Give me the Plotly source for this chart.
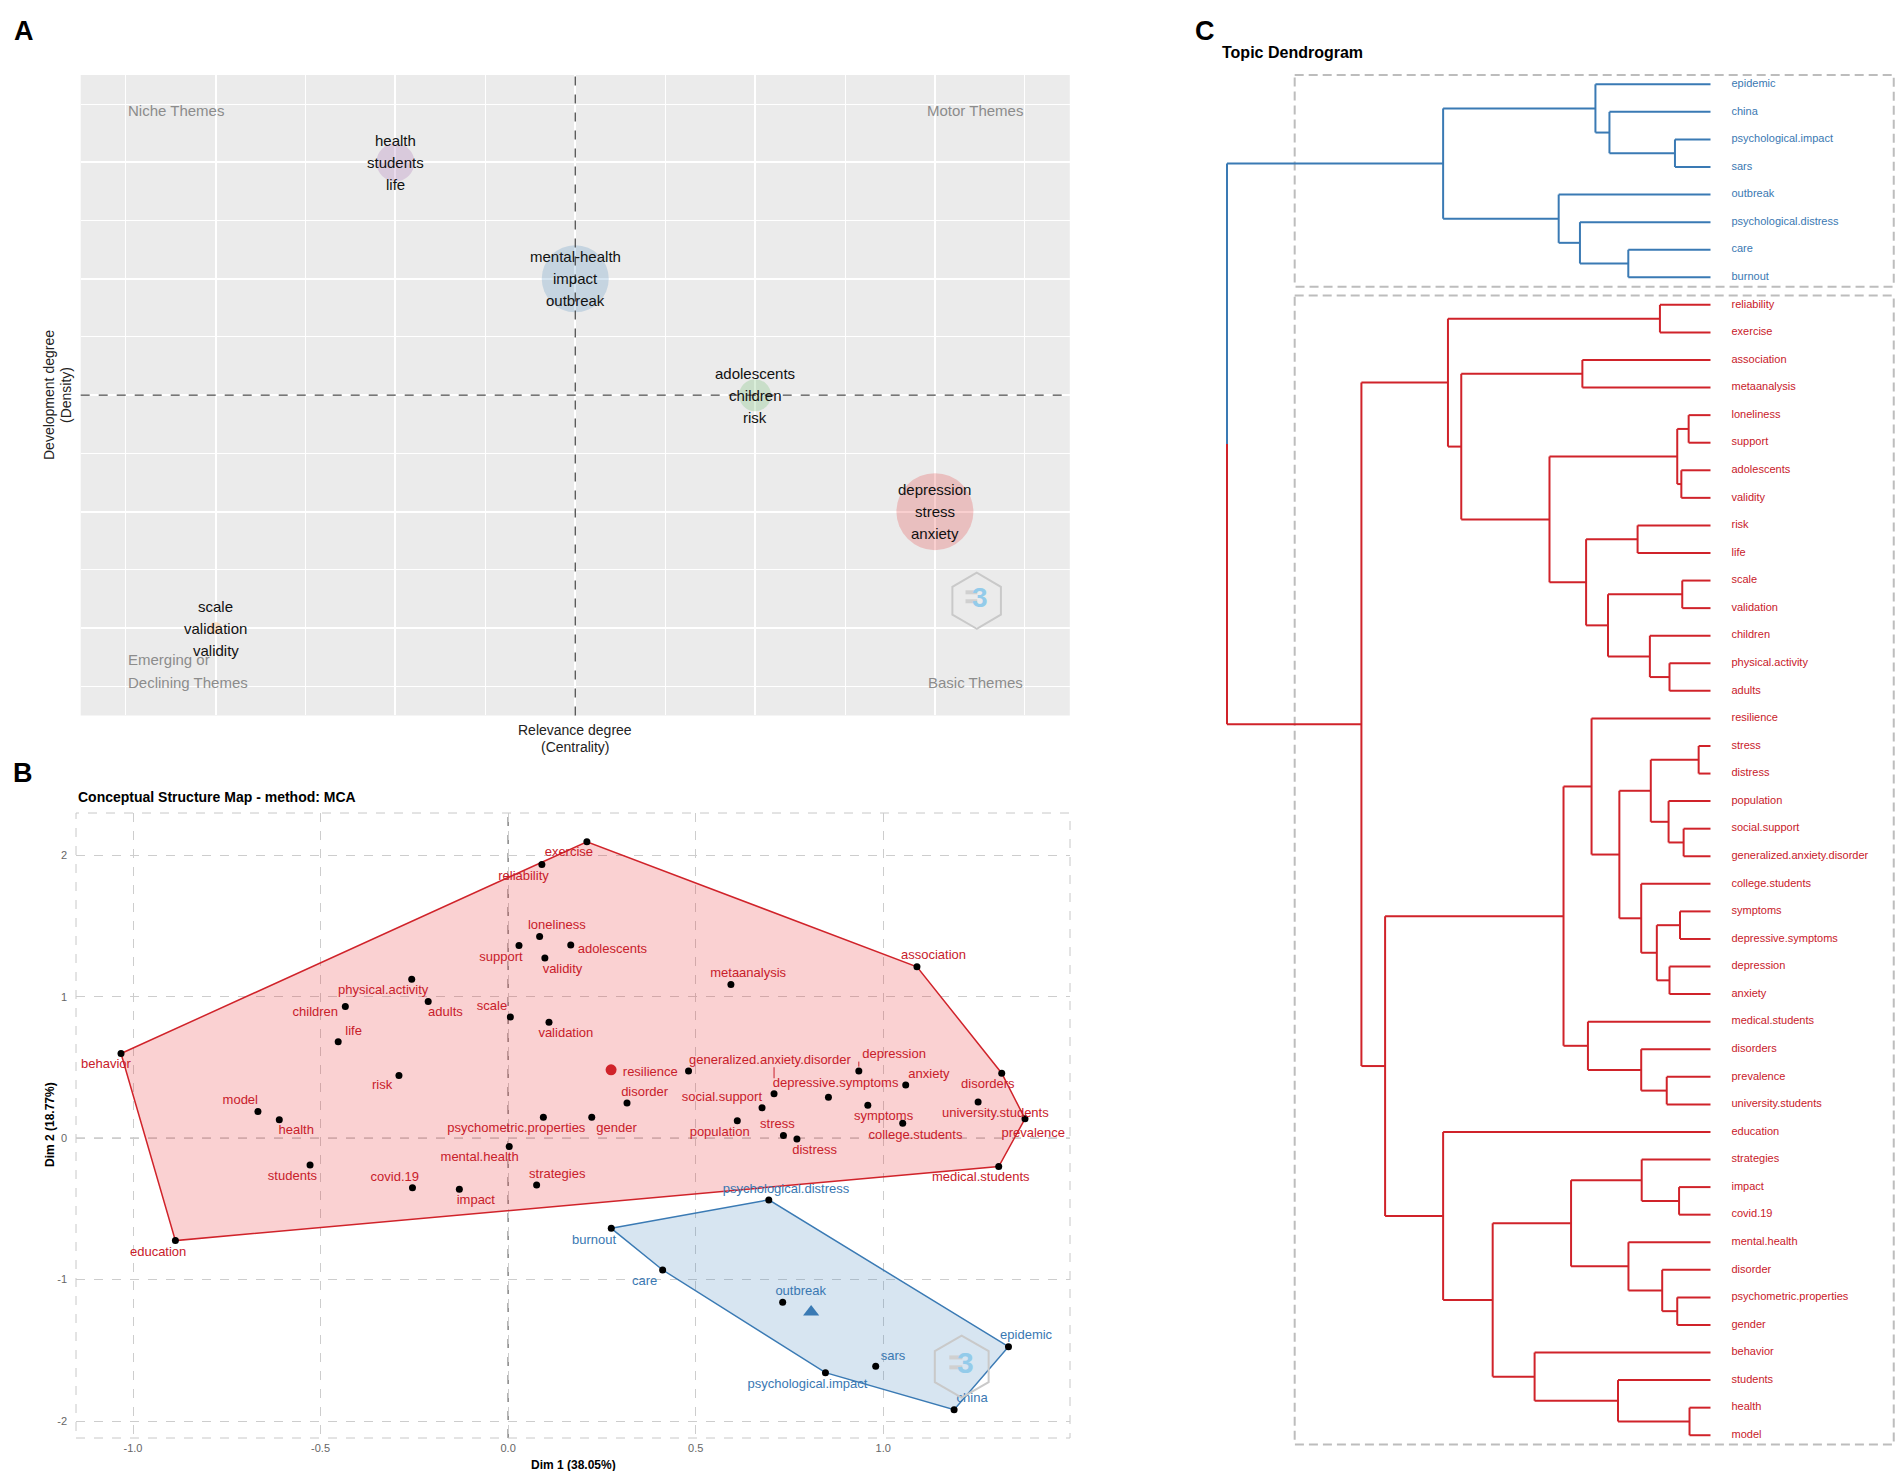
import numpy as np
import plotly.graph_objects as go

W, H = 1904, 1479
BODY = 8                      # default page margin of the html body
FW, FH = W - 2 * BODY, H - 2 * BODY
FONT = "Liberation Sans, Arial, Helvetica, sans-serif"


def fx(px):
    return (px - BODY) / FW


def fy(py):
    return 1 - (py - BODY) / FH


# ---------------- Panel A : thematic map ----------------
theme_word_1 = ["health", "mental-health", "adolescents", "depression", "scale"]
theme_word_2 = ["students", "impact", "children", "stress", "validation"]
theme_word_3 = ["life", "outbreak", "risk", "anxiety", "validity"]
theme_centrality = [2, 3, 4, 5, 1]
theme_density = [5, 4, 3, 2, 1]
theme_size = [38, 67, 32, 77, 12]
theme_colors = [(152, 78, 163), (55, 126, 184), (77, 175, 74), (228, 26, 28), (255, 127, 0)]

# ---------------- Panel B : conceptual structure map (MCA) ----------------
mca_words = ["exercise", "reliability", "loneliness", "support", "adolescents", "validity",
             "physical.activity", "adults", "children", "scale", "validation", "life",
             "behavior", "risk", "model", "health", "psychometric.properties", "gender",
             "mental.health", "students", "covid.19", "impact", "strategies", "education",
             "metaanalysis", "association", "resilience", "generalized.anxiety.disorder",
             "depression", "anxiety", "disorders", "depressive.symptoms", "symptoms",
             "social.support", "population", "stress", "distress", "college.students",
             "university.students", "prevalence", "medical.students", "disorder",
             "psychological.distress", "burnout", "care", "outbreak", "epidemic", "sars",
             "psychological.impact", "china"]
mca_dim1 = [0.210, 0.090, 0.084, 0.029, 0.167, 0.098, -0.257, -0.213, -0.434, 0.006, 0.109, -0.453,
            -1.032, -0.291, -0.667, -0.610, 0.094, 0.223, 0.003, -0.528, -0.255, -0.130, 0.076, -0.887,
            0.594, 1.090, 0.481, 0.709, 0.935, 1.060, 1.316, 0.854, 0.959, 0.677, 0.611, 0.734, 0.770,
            1.052, 1.253, 1.378, 1.308, 0.317,
            0.695, 0.275, 0.412, 0.732, 1.334, 0.980, 0.846, 1.189]
mca_dim2 = [2.097, 1.936, 1.427, 1.363, 1.366, 1.274, 1.125, 0.967, 0.932, 0.858, 0.821, 0.682,
            0.599, 0.443, 0.189, 0.130, 0.149, 0.149, -0.059, -0.189, -0.351, -0.361, -0.330, -0.724,
            1.087, 1.212, 0.476, 0.314, 0.476, 0.377, 0.460, 0.290, 0.233, 0.215, 0.123, 0.019, -0.005,
            0.106, 0.257, 0.137, -0.200, 0.250,
            -0.436, -0.637, -0.932, -1.160, -1.474, -1.613, -1.658, -1.920]
mca_cluster = [1] * 42 + [2] * 8
label_dim1 = [0.162, 0.041, 0.130, -0.019, 0.278, 0.145, -0.333, -0.167, -0.514, -0.043, 0.154, -0.412,
              -1.072, -0.336, -0.714, -0.565, 0.022, 0.289, -0.076, -0.575, -0.302, -0.086, 0.131, -0.933,
              0.640, 1.134, 0.379, 0.698, 1.029, 1.122, 1.279, 0.873, 1.001, 0.570, 0.564, 0.718, 0.817,
              1.086, 1.299, 1.400, 1.260, 0.364,
              0.741, 0.229, 0.364, 0.780, 1.381, 1.026, 0.798, 1.237]
label_dim2 = [2.017, 1.851, 1.500, 1.278, 1.330, 1.189, 1.042, 0.884, 0.884, 0.932, 0.738, 0.750,
              0.517, 0.368, 0.264, 0.050, 0.066, 0.068, -0.139, -0.271, -0.276, -0.441, -0.259, -0.809,
              1.160, 1.288, 0.465, 0.547, 0.587, 0.450, 0.380, 0.384, 0.153, 0.288, 0.040, 0.092, -0.087,
              0.019, 0.175, 0.035, -0.283, 0.323,
              -0.363, -0.722, -1.014, -1.087, -1.399, -1.545, -1.745, -1.844]
leader_words = ["generalized.anxiety.disorder", "depression"]
dim_tick_x = [-1.0, -0.5, 0.0, 0.5, 1.0]
dim_tick_y = [-2, -1, 0, 1, 2]

# ---------------- Panel C : topic dendrogram ----------------
# (node, left child, right child, merge height)
dend_merges = [
    ("b1", "psychological.impact", "sars", 0.0735),
    ("b2", "china", "b1", 0.209),
    ("b3", "epidemic", "b2", 0.238),
    ("b4", "care", "burnout", 0.170),
    ("b5", "psychological.distress", "b4", 0.270),
    ("b6", "outbreak", "b5", 0.314),
    ("b7", "b3", "b6", 0.553),
    ("r1", "reliability", "exercise", 0.1046),
    ("r2", "association", "metaanalysis", 0.265),
    ("r3", "loneliness", "support", 0.0452),
    ("r4", "adolescents", "validity", 0.0603),
    ("r5", "r3", "r4", 0.0688),
    ("r6", "risk", "life", 0.1508),
    ("r7", "scale", "validation", 0.0584),
    ("r8", "physical.activity", "adults", 0.0848),
    ("r9", "children", "r8", 0.1254),
    ("r10", "r7", "r9", 0.212),
    ("r11", "r6", "r10", 0.2573),
    ("r12", "r5", "r11", 0.333),
    ("r13", "r2", "r12", 0.5155),
    ("r14", "r1", "r13", 0.543),
    ("r15", "stress", "distress", 0.0245),
    ("r16", "social.support", "generalized.anxiety.disorder", 0.0556),
    ("r17", "population", "r16", 0.0867),
    ("r18", "r15", "r17", 0.1235),
    ("r19", "symptoms", "depressive.symptoms", 0.0631),
    ("r20", "depression", "anxiety", 0.0848),
    ("r21", "r19", "r20", 0.111),
    ("r22", "college.students", "r21", 0.1433),
    ("r23", "r18", "r22", 0.1885),
    ("r24", "resilience", "r23", 0.246),
    ("r25", "prevalence", "university.students", 0.0905),
    ("r26", "disorders", "r25", 0.1433),
    ("r27", "medical.students", "r26", 0.2535),
    ("r28", "r24", "r27", 0.304),
    ("r29", "impact", "covid.19", 0.065),
    ("r30", "strategies", "r29", 0.1423),
    ("r31", "psychometric.properties", "gender", 0.0688),
    ("r32", "disorder", "r31", 0.0999),
    ("r33", "mental.health", "r32", 0.1697),
    ("r34", "r30", "r33", 0.2884),
    ("r35", "health", "model", 0.0434),
    ("r36", "students", "r35", 0.1913),
    ("r37", "behavior", "r36", 0.3638),
    ("r38", "r34", "r37", 0.4505),
    ("r39", "education", "r38", 0.553),
    ("r40", "r28", "r39", 0.673),
    ("r41", "r14", "r40", 0.722),
    ("root", "b7", "r41", 1.0),
]

# ---------------- styling ----------------
RED_LINE = "#D0232A"
BLUE_LINE = "#3A7AB4"
RED_TXT = "#C8202A"
BLUE_TXT = "#3A78B2"


def rgba(c, a):
    return "rgba(%d,%d,%d,%.3f)" % (c[0], c[1], c[2], a)


def pann(x, y, text, size, color="black", angle=0, xanchor="center"):
    return dict(x=fx(x), y=fy(y), xref="paper", yref="paper", text=text, showarrow=False,
                xanchor=xanchor, yanchor="middle", textangle=angle,
                font=dict(size=size, color=color, family=FONT))


fig = go.Figure()
annotations = []
shapes = []

# ======================= Panel A =======================
fig.add_trace(go.Scatter(
    x=theme_centrality, y=theme_density, mode="markers",
    marker=dict(size=theme_size, sizemode="diameter",
                color=[rgba(c, 0.3) for c in theme_colors], line=dict(width=0)),
    xaxis="x", yaxis="y", hoverinfo="skip"))

for i in range(len(theme_centrality)):
    for k, words in enumerate([theme_word_1, theme_word_2, theme_word_3]):
        annotations.append(dict(x=theme_centrality[i], y=theme_density[i], xref="x", yref="y",
                                text=words[i], showarrow=False, yshift=(1 - k) * 22,
                                xanchor="center", yanchor="middle",
                                font=dict(size=15, color="#111111", family=FONT)))

mx = float(np.mean(theme_centrality))
my = float(np.mean(theme_density))
shapes.append(dict(type="line", xref="x", yref="y domain", x0=mx, x1=mx, y0=0, y1=1,
                   line=dict(color="#4a4a4a", width=1.3, dash="dash"), layer="above"))
shapes.append(dict(type="line", xref="x domain", yref="y", x0=0, x1=1, y0=my, y1=my,
                   line=dict(color="#4a4a4a", width=1.3, dash="dash"), layer="above"))
shapes.append(dict(type="rect", xref="x domain", yref="y domain", x0=0, x1=1, y0=0, y1=1,
                   fillcolor="#EBEBEB", line=dict(width=0), layer="below"))

quad_col = "#8c8c8c"
for txt, xx, yy, anc in (("Niche Themes", 0.5, 5.444, "left"), ("Motor Themes", 5.5, 5.444, "right"),
                         ("Emerging or", 0.5, 0.730, "left"), ("Declining Themes", 0.5, 0.535, "left"),
                         ("Basic Themes", 5.5, 0.535, "right")):
    annotations.append(dict(x=xx, y=yy, xref="x", yref="y", text=txt, xanchor=anc, yanchor="middle",
                            showarrow=False, font=dict(size=15, color=quad_col, family=FONT)))

annotations += [
    pann(575, 730, "Relevance degree", 14, "#222"),
    pann(575, 747, "(Centrality)", 14, "#222"),
    pann(49, 395, "Development degree", 14, "#222", angle=-90),
    pann(66, 395, "(Density)", 14, "#222", angle=-90),
]


def logo(cx, cy, r, fs):
    ang = np.deg2rad(np.arange(0, 360, 60) + 90)
    pts = [(cx + r * np.cos(a), cy + r * np.sin(a)) for a in ang]
    path = "M " + " L ".join("%.4f,%.4f" % (fx(x), fy(y)) for x, y in pts) + " Z"
    shapes.append(dict(type="path", xref="paper", yref="paper", path=path,
                       line=dict(color="#C9C9C9", width=2), layer="above"))
    for dy in (-0.30, 0.02):
        shapes.append(dict(type="line", xref="paper", yref="paper",
                           x0=fx(cx - 0.40 * r), x1=fx(cx + 0.02 * r),
                           y0=fy(cy + dy * r), y1=fy(cy + dy * r),
                           line=dict(color="#D0D0D0", width=4), layer="above"))
    annotations.append(pann(cx + 0.12 * r, cy - 0.12 * r, "<b>3</b>", fs, "#93CBEA"))


logo(976.7, 600.7, 28, 28)

# ======================= Panel B =======================
clusters = {1: dict(fill=rgba((228, 26, 28), 0.2), line=RED_LINE, txt=RED_TXT, sym="circle", size=11),
            2: dict(fill=rgba((55, 126, 184), 0.2), line=BLUE_LINE, txt=BLUE_TXT, sym="triangle-up", size=14)}


def convex_hull(points):
    pts = sorted(set(points))
    if len(pts) <= 2:
        return pts

    def cross(o, a, b):
        return (a[0] - o[0]) * (b[1] - o[1]) - (a[1] - o[1]) * (b[0] - o[0])
    lower, upper = [], []
    for p in pts:
        while len(lower) >= 2 and cross(lower[-2], lower[-1], p) <= 0:
            lower.pop()
        lower.append(p)
    for p in reversed(pts):
        while len(upper) >= 2 and cross(upper[-2], upper[-1], p) <= 0:
            upper.pop()
        upper.append(p)
    return lower[:-1] + upper[:-1]


for cl in (1, 2):
    idx = [i for i, c in enumerate(mca_cluster) if c == cl]
    hull = convex_hull([(mca_dim1[i], mca_dim2[i]) for i in idx])
    hull.append(hull[0])
    fig.add_trace(go.Scatter(x=[p[0] for p in hull], y=[p[1] for p in hull], mode="lines",
                             fill="toself", fillcolor=clusters[cl]["fill"],
                             line=dict(color=clusters[cl]["line"], width=1.5),
                             xaxis="x2", yaxis="y2", hoverinfo="skip"))

for w in leader_words:
    i = mca_words.index(w)
    fig.add_trace(go.Scatter(x=[mca_dim1[i], mca_dim1[i]],
                             y=[mca_dim2[i] + (0.11 if label_dim2[i] - mca_dim2[i] > 0.15 else 0.03),
                                label_dim2[i] - 0.045],
                             mode="lines", line=dict(color=clusters[mca_cluster[i]]["txt"], width=1),
                             xaxis="x2", yaxis="y2", hoverinfo="skip"))

fig.add_trace(go.Scatter(x=mca_dim1, y=mca_dim2, mode="markers",
                         marker=dict(size=7, color="black"), xaxis="x2", yaxis="y2", hoverinfo="skip"))

for cl in (1, 2):
    idx = [i for i, c in enumerate(mca_cluster) if c == cl]
    cx = float(np.mean([mca_dim1[i] for i in idx]))
    cy = float(np.mean([mca_dim2[i] for i in idx]))
    fig.add_trace(go.Scatter(x=[cx], y=[cy], mode="markers",
                             marker=dict(size=clusters[cl]["size"], symbol=clusters[cl]["sym"],
                                         color=clusters[cl]["line"]),
                             xaxis="x2", yaxis="y2", hoverinfo="skip"))
    fig.add_trace(go.Scatter(x=[label_dim1[i] for i in idx], y=[label_dim2[i] for i in idx],
                             text=[mca_words[i] for i in idx], mode="text", textposition="middle center",
                             textfont=dict(size=13, color=clusters[cl]["txt"], family=FONT),
                             cliponaxis=False, xaxis="x2", yaxis="y2", hoverinfo="skip"))

shapes.append(dict(type="line", xref="x2", yref="y2 domain", x0=0, x1=0, y0=0, y1=1,
                   line=dict(color="#666666", width=1.2, dash="dash"), layer="below"))
shapes.append(dict(type="line", xref="x2 domain", yref="y2", x0=0, x1=1, y0=0, y1=0,
                   line=dict(color="#666666", width=1.2, dash="dash"), layer="below"))
shapes.append(dict(type="rect", xref="x2 domain", yref="y2 domain", x0=0, x1=1, y0=0, y1=1,
                   line=dict(color="#C8C8C8", width=1, dash="dash"), layer="below"))

annotations += [
    pann(76, 797, "<b>Conceptual Structure Map - method: MCA</b>", 14, xanchor="left"),
    pann(573, 1465, "<b>Dim 1 (38.05%)</b>", 12),
    pann(50, 1125, "<b>Dim 2 (18.77%)</b>", 12, angle=-90),
]
logo(961.7, 1366.7, 31, 30)

# ======================= Panel C =======================
merge_map = {n: (l, r, h) for n, l, r, h in dend_merges}
leaf_order = []


def walk(n):
    if n in merge_map:
        walk(merge_map[n][0])
        walk(merge_map[n][1])
    else:
        leaf_order.append(n)


walk("root")
ypos = {leaf: i for i, leaf in enumerate(leaf_order)}
hgt = {leaf: 0.0 for leaf in leaf_order}


def center(n):
    if n in ypos:
        return ypos[n]
    l, r, h = merge_map[n]
    ypos[n] = (center(l) + center(r)) / 2
    hgt[n] = h
    return ypos[n]


center("root")


def members(n, acc):
    acc.add(n)
    if n in merge_map:
        members(merge_map[n][0], acc)
        members(merge_map[n][1], acc)
    return acc


blue_set = members("b7", set())
segs = {"blue": ([], []), "red": ([], [])}


def add_seg(col, x0, y0, x1, y1):
    segs[col][0].extend([x0, x1, None])
    segs[col][1].extend([y0, y1, None])


for n, l, r, h in dend_merges:
    if n == "root":
        for ch in (l, r):
            add_seg("blue" if ch in blue_set else "red", h, ypos[ch], hgt[ch], ypos[ch])
        mid = ypos[n]
        add_seg("blue" if l in blue_set else "red", h, ypos[l], h, mid)
        add_seg("blue" if r in blue_set else "red", h, mid, h, ypos[r])
        continue
    col = "blue" if n in blue_set else "red"
    add_seg(col, h, ypos[l], h, ypos[r])
    add_seg(col, h, ypos[l], hgt[l], ypos[l])
    add_seg(col, h, ypos[r], hgt[r], ypos[r])

for col, c in (("blue", BLUE_LINE), ("red", RED_LINE)):
    fig.add_trace(go.Scatter(x=segs[col][0], y=segs[col][1], mode="lines",
                             line=dict(color=c, width=2), xaxis="x3", yaxis="y3", hoverinfo="skip"))

PX_PER_H = 483.5     # pixels per unit of merge height
LEAF_X = 1710.5      # pixel x where leaves end
PX_PER_LEAF = 27.57
LEAF0_Y = 84.3
gap = 21 / PX_PER_H
fig.add_trace(go.Scatter(x=[-gap] * len(leaf_order), y=[ypos[lf] for lf in leaf_order], text=leaf_order,
                         mode="text", textposition="middle right",
                         textfont=dict(size=11, family=FONT,
                                       color=[BLUE_TXT if lf in blue_set else RED_TXT for lf in leaf_order]),
                         cliponaxis=False, xaxis="x3", yaxis="y3", hoverinfo="skip"))

box_left, box_right, pad = 0.86, -0.379, 0.34
for grp in (blue_set, set(leaf_order) - blue_set):
    ids = [ypos[lf] for lf in leaf_order if lf in grp]
    shapes.append(dict(type="rect", xref="x3", yref="y3", x0=box_left, x1=box_right,
                       y0=min(ids) - pad, y1=max(ids) + pad,
                       line=dict(color="#BDBDBD", width=2, dash="9px,5px"), layer="below"))

annotations.append(pann(1219.6, 52, "<b>Topic Dendrogram</b>", 16, xanchor="left"))

for letter, x, y in (("A", 24, 31), ("B", 23, 773), ("C", 1205, 31)):
    annotations.append(pann(x, y, "<b>%s</b>" % letter, 27))

# ======================= Layout =======================
x3_left, x3_right = 1190, W - BODY
y3_top, y3_bot = BODY, H - BODY
fig.update_layout(
    width=FW, height=FH, margin=dict(l=0, r=0, t=0, b=0),
    paper_bgcolor="white", plot_bgcolor="white", showlegend=False,
    font=dict(family=FONT),
    xaxis=dict(domain=[fx(80.7), fx(1069.8)], range=[0.25, 5.75], anchor="y",
               tickmode="linear", tick0=1, dtick=1, showgrid=True, gridcolor="white", gridwidth=2,
               minor=dict(tickmode="array", tickvals=list(np.arange(0.5, 6, 1.0)), showgrid=True,
                          gridcolor="white", gridwidth=1),
               showticklabels=False, ticks="", zeroline=False, showline=False),
    yaxis=dict(domain=[fy(715.4), fy(75)], range=[0.25, 5.75], anchor="x",
               tickmode="linear", tick0=1, dtick=1, showgrid=True, gridcolor="white", gridwidth=2,
               minor=dict(tickmode="array", tickvals=list(np.arange(0.5, 6, 1.0)), showgrid=True,
                          gridcolor="white", gridwidth=1),
               showticklabels=False, ticks="", zeroline=False, showline=False),
    xaxis2=dict(domain=[fx(76), fx(1070)], range=[-1.152, 1.498], anchor="y2",
                tickmode="array", tickvals=dim_tick_x, ticktext=["%.1f" % v for v in dim_tick_x],
                showgrid=True, gridcolor="#CDCDCD", gridwidth=1, griddash="dash",
                zeroline=False, ticks="", ticklabelstandoff=2,
                tickfont=dict(size=11, color="#666666", family=FONT)),
    yaxis2=dict(domain=[fy(1438), fy(813)], range=[-2.12, 2.30], anchor="x2",
                tickmode="array", tickvals=dim_tick_y, ticktext=[str(v) for v in dim_tick_y],
                showgrid=True, gridcolor="#CDCDCD", gridwidth=1, griddash="dash",
                zeroline=False, ticks="", ticklabelstandoff=8,
                tickfont=dict(size=11, color="#666666", family=FONT)),
    xaxis3=dict(domain=[fx(x3_left), fx(x3_right)],
                range=[(LEAF_X - x3_left) / PX_PER_H, (LEAF_X - x3_right) / PX_PER_H],
                anchor="y3", visible=False),
    yaxis3=dict(domain=[fy(y3_bot), fy(y3_top)],
                range=[(y3_bot - LEAF0_Y) / PX_PER_LEAF, (y3_top - LEAF0_Y) / PX_PER_LEAF],
                anchor="x3", visible=False),
    annotations=annotations, shapes=shapes,
)

fig.write_html("out.html")
